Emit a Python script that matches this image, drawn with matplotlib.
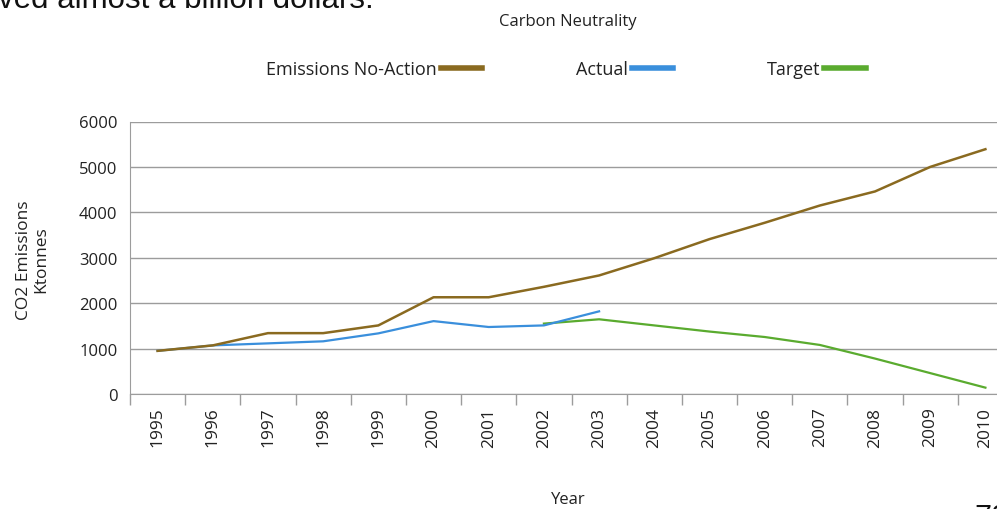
import matplotlib
matplotlib.use("Agg")
import matplotlib.pyplot as plt

# emissions per year, ktonnes
years = ["1995", "1996", "1997", "1998", "1999", "2000", "2001", "2002",
         "2003", "2004", "2005", "2006", "2007", "2008", "2009", "2010"]
noAction = [950, 1070, 1340, 1340, 1510, 2130, 2130, 2360,
            2610, 2990, 3410, 3770, 4150, 4460, 5000, 5390]
actual = [950, 1070, 1115, 1160, 1335, 1605, 1475, 1510, 1820]
target = [1550, 1645, 1510, 1375, 1255, 1080, 780, 460, 140]
targetStart = 7  # target series begins at 2002

plt.rcParams['font.family'] = ['Open Sans', 'DejaVu Sans']

fig = plt.figure(figsize=(9.97, 5.10), dpi=100)
W, H = 997.0, 510.0
ax = fig.add_axes([130 / W, 1 - 395 / H, 883 / W, (395 - 122.5) / H])

x = list(range(len(years)))
lineTarget, = ax.plot(x[targetStart:], target, color='#5aab2f', lw=1.6, label='Target', zorder=3)
lineActual, = ax.plot(x[:len(actual)], actual, color='#3a8fdc', lw=1.6, label='Actual', zorder=4)
lineNo, = ax.plot(x, noAction, color='#8a6a20', lw=1.8, label='Emissions No-Action', zorder=5)

ax.set_xlim(-0.5, len(years) - 0.5)
ax.set_ylim(0, 6000)
ax.set_yticks(range(0, 6001, 1000))
ax.yaxis.grid(True, color='#9c9c9c', lw=1.0)
ax.set_axisbelow(True)

ax.set_xticks(x)
ax.set_xticklabels(years, rotation=90, fontsize=12.5, color='#222222')
ax.set_xticks([i - 0.5 for i in range(len(years) + 1)], minor=True)
ax.tick_params(axis='x', which='major', length=0, pad=9)
ax.tick_params(axis='x', which='minor', length=8, color='#9c9c9c', width=1)
ax.tick_params(axis='y', length=0, pad=9, labelsize=12, labelcolor='#222222')

for s in ['top', 'right']:
    ax.spines[s].set_visible(False)
ax.spines['left'].set_color('#9c9c9c')
ax.spines['bottom'].set_color('#9c9c9c')

fig.text(568 / W, 1 - 22 / H, 'Carbon Neutrality', ha='center', va='center', fontsize=12, color='#222222')
fig.text(568 / W, 1 - 500 / H, 'Year', ha='center', va='center', fontsize=12, color='#222222')
fig.text(33 / W, 1 - 260 / H, 'CO2 Emissions\nKtonnes', ha='center', va='center', rotation=90,
         multialignment='center', fontsize=12.5, color='#222222', linespacing=1.1)

leg = fig.legend(handles=[lineNo, lineActual, lineTarget], ncol=3, markerfirst=False,
                 frameon=False, loc='center', bbox_to_anchor=(566 / W, 1 - 70 / H),
                 handlelength=2.3, handletextpad=0.2, columnspacing=5.2, fontsize=13)
for t in leg.get_texts():
    t.set_color('#222222')
for ln in leg.get_lines():
    ln.set_linewidth(4)

# slide text around the chart
fig.text(-2 / W, 1 - 8.5 / H, 'ved almost a billion dollars.', ha='left', va='baseline',
         fontsize=22.5, family='Liberation Sans', color='#111111')
fig.text(974 / W, 1 - 504 / H, '70', ha='left', va='top', fontsize=22,
         family='Liberation Sans', color='#111111')

fig.savefig('out.png', dpi=100)
